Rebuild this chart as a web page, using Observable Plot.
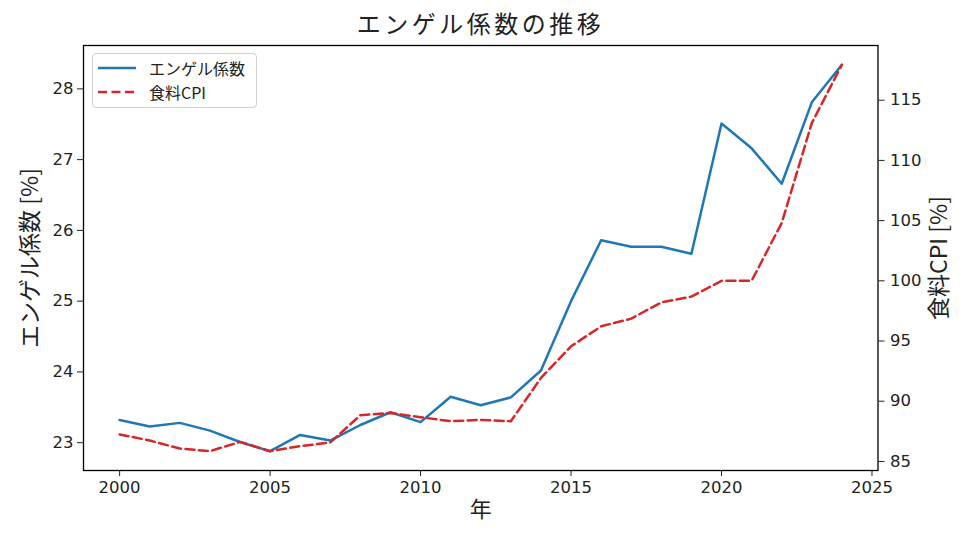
<!DOCTYPE html>
<html><head><meta charset="utf-8">
<script src="https://cdn.jsdelivr.net/npm/d3@7"></script>
<script src="https://cdn.jsdelivr.net/npm/@observablehq/plot@0.6"></script>
<style>
body{margin:0;background:#fff;font-family:"DejaVu Sans","Noto Sans CJK JP",sans-serif;color:#222;}
#wrap{position:relative;width:966px;height:538px;overflow:hidden;}
#title{position:absolute;left:0;top:0;width:961px;height:38px;line-height:46px;text-align:center;font-size:24px;letter-spacing:3.5px;font-family:"Noto Sans CJK JP",sans-serif;color:#222;}
#chart{position:absolute;left:0;top:38px;}
#legend{position:absolute;left:92px;top:53px;width:165px;height:55px;box-sizing:border-box;border:1px solid #d0d0d0;border-radius:4px;background:rgba(255,255,255,0.85);font-size:16px;}
#legend .row{position:absolute;left:5px;height:20px;display:flex;align-items:center;}
#legend .row span{margin-left:13px;font-family:"Noto Sans CJK JP","DejaVu Sans",sans-serif;}
</style>
</head><body>
<div id="wrap">
  <div id="title">エンゲル係数の推移</div>
  <div id="chart"></div>
  <div id="legend">
    <div class="row" style="top:4px"><svg width="38" height="6"><line x1="0" y1="3" x2="38" y2="3" stroke="#1f77b4" stroke-width="2.5"/></svg><span>エンゲル係数</span></div>
    <div class="row" style="top:28px"><svg width="38" height="6"><line x1="0" y1="3" x2="38" y2="3" stroke="#d62728" stroke-width="2.5" stroke-dasharray="9,4.5"/></svg><span>食料CPI</span></div>
  </div>
</div>
<script>
const years = [2000,2001,2002,2003,2004,2005,2006,2007,2008,2009,2010,2011,2012,2013,2014,2015,2016,2017,2018,2019,2020,2021,2022,2023,2024];
const engel = [23.32,23.23,23.28,23.17,23.01,22.88,23.11,23.03,23.25,23.43,23.29,23.65,23.53,23.64,24.02,25.00,25.86,25.77,25.77,25.67,27.51,27.16,26.66,27.81,28.34];
const foodCpi = [87.24,86.74,86.07,85.85,86.62,85.85,86.27,86.57,88.84,89.03,88.67,88.34,88.45,88.34,91.93,94.56,96.22,96.86,98.21,98.69,100.0,100.0,104.8,113.1,117.94];
const xTicks = [2000,2005,2010,2015,2020,2025];
const engelTicks = [23,24,25,26,27,28];
const cpiTicks = [85,90,95,100,105,110,115];
const titleText = "エンゲル係数の推移";
const xLabel = "年";
const yLabelLeft = "エンゲル係数 [%]";
const yLabelRight = "食料CPI [%]";
const seriesNames = ["エンゲル係数","食料CPI"];

function pad(arr){const lo=d3.min(arr),hi=d3.max(arr),m=(hi-lo)*0.05;return [lo-m,hi+m];}
const xDom = pad(years), yDom = pad(engel), cDom = pad(foodCpi);
const cpiToLeft = d3.scaleLinear().domain(cDom).range(yDom);

const rows = years.map((y,i)=>({year:y, engel:engel[i], cpi:foodCpi[i]}));

const chart = Plot.plot({
  width:966, height:500,
  marginTop:7, marginBottom:68, marginLeft:83, marginRight:88.5,
  style:{fontFamily:'"DejaVu Sans","Noto Sans CJK JP",sans-serif', color:"#222", background:"transparent"},
  x:{domain:xDom},
  y:{domain:yDom},
  marks:[
    Plot.lineY(rows,{x:"year", y:"engel", stroke:"#1f77b4", strokeWidth:2.5}),
    Plot.lineY(rows,{x:"year", y:d=>cpiToLeft(d.cpi), stroke:"#d62728", strokeWidth:2.5, strokeDasharray:"9,4.5"}),
    Plot.axisX({ticks:xTicks, tickFormat:"d", tickSize:6, tickPadding:5, fontSize:16.5, label:null}),
    Plot.axisY({ticks:engelTicks, tickFormat:"d", tickSize:6, tickPadding:4, fontSize:16.5, label:null}),
    Plot.axisY(cpiTicks.map(c=>cpiToLeft(c)), {anchor:"right", tickFormat:d=>String(Math.round(cpiToLeft.invert(d))), tickSize:6, tickPadding:6, fontSize:16.5, label:null}),
    Plot.frame({stroke:"black", strokeWidth:1.3}),
    Plot.text([xLabel],{frameAnchor:"bottom", dy:46, fontSize:22, textAnchor:"middle", fontFamily:"Noto Sans CJK JP"}),
    Plot.text([yLabelLeft],{frameAnchor:"left", dx:-53, rotate:-90, textAnchor:"middle", fontSize:23, fontFamily:"Noto Sans CJK JP"}),
    Plot.text([yLabelRight],{frameAnchor:"right", dx:61.5, rotate:-90, textAnchor:"middle", fontSize:23, fontFamily:"Noto Sans CJK JP"})
  ]
});
document.getElementById("chart").appendChild(chart);
</script>
</body></html>
